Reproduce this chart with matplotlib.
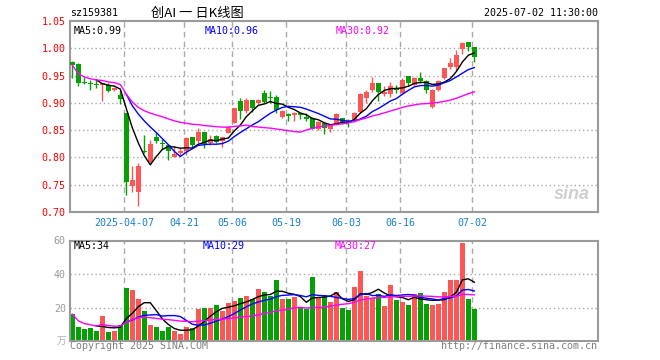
import numpy as np
import pandas as pd
import matplotlib
matplotlib.use('Agg')
from matplotlib import pyplot as plt

plt.rcParams['font.family'] = ['DejaVu Sans Mono', 'Noto Sans CJK SC']

# daily K-line data, 2025-03-24 .. 2025-07-02 (68 trading days)
opens = [0.9755, 0.9706, 0.938, 0.9355, 0.935, 0.933, 0.9327, 0.9235, 0.9143, 0.8807,
         0.7478, 0.737, 0.8125, 0.7919, 0.8378, 0.8262, 0.8219, 0.8011, 0.8085, 0.8121,
         0.8366, 0.8293, 0.8464, 0.8256, 0.8390, 0.8299, 0.8452, 0.8635, 0.9033, 0.8856,
         0.9051, 0.899, 0.918, 0.910, 0.9107, 0.8745, 0.8801, 0.877, 0.8807, 0.8739,
         0.8727, 0.8513, 0.8623, 0.8513, 0.8611, 0.8715, 0.8672, 0.8672, 0.8837, 0.9082,
         0.9235, 0.937, 0.9162, 0.9155, 0.9266, 0.9174, 0.9492, 0.9327, 0.9449, 0.94,
         0.8929, 0.9235, 0.9449, 0.9663, 0.9663, 0.9982, 1.011, 1.0018]
closes = [0.9694, 0.937, 0.936, 0.9345, 0.933, 0.936, 0.9223, 0.9278, 0.907, 0.7552,
          0.7595, 0.784, 0.810, 0.8237, 0.8305, 0.825, 0.8109, 0.806, 0.812, 0.8348,
          0.8219, 0.8458, 0.8238, 0.8329, 0.8287, 0.8366, 0.8556, 0.8898, 0.8856, 0.9051,
          0.8911, 0.9058, 0.9021, 0.9082, 0.8868, 0.8856, 0.8764, 0.8813, 0.877, 0.871,
          0.8513, 0.8648, 0.8531, 0.8592, 0.8794, 0.8647, 0.8635, 0.8819, 0.9162, 0.9204,
          0.937, 0.9204, 0.9204, 0.9308, 0.9235, 0.9419, 0.9357, 0.9462, 0.94, 0.9235,
          0.9235, 0.94, 0.9633, 0.9725, 0.9878, 1.0104, 1.003, 0.9835]
highs = [0.9767, 0.9725, 0.947, 0.942, 0.941, 0.937, 0.9357, 0.9296, 0.9235, 0.881,
         0.784, 0.7907, 0.8409, 0.8317, 0.8458, 0.833, 0.8244, 0.8207, 0.8164, 0.8378,
         0.8378, 0.8531, 0.8464, 0.842, 0.8409, 0.8378, 0.8574, 0.891, 0.9082, 0.9082,
         0.9051, 0.907, 0.9235, 0.9217, 0.9143, 0.8868, 0.8807, 0.8837, 0.882, 0.882,
         0.8745, 0.8666, 0.8635, 0.861, 0.8807, 0.8727, 0.8696, 0.8837, 0.9174, 0.9235,
         0.9468, 0.937, 0.9308, 0.9388, 0.9327, 0.9462, 0.9492, 0.948, 0.9572, 0.9419,
         0.9247, 0.9419, 0.9645, 0.9816, 0.997, 1.0122, 1.011, 1.0018]
lows = [0.945, 0.9315, 0.9345, 0.9235, 0.9265, 0.904, 0.9205, 0.9223, 0.8978, 0.7307,
        0.737, 0.7111, 0.8085, 0.789, 0.8256, 0.8146, 0.7962, 0.7999, 0.8042, 0.804,
        0.818, 0.8268, 0.8176, 0.822, 0.8256, 0.8183, 0.844, 0.8623, 0.8697, 0.8819,
        0.8837, 0.898, 0.899, 0.9003, 0.8807, 0.8715, 0.8672, 0.8672, 0.8697, 0.8672,
        0.8513, 0.85, 0.8427, 0.847, 0.8592, 0.8605, 0.8562, 0.8654, 0.8819, 0.9002,
        0.9198, 0.9039, 0.9125, 0.9113, 0.9174, 0.9155, 0.9308, 0.9308, 0.9357, 0.9186,
        0.891, 0.9217, 0.943, 0.9614, 0.959, 0.9896, 0.9957, 0.9755]
# volume, 万
volumes = [16.0, 8.2, 7.0, 7.6, 5.8, 14.8, 5.2, 5.8, 9.6, 31.6,
           30.4, 25.0, 17.8, 9.4, 8.2, 5.8, 8.2, 5.8, 4.0, 8.2,
           7.6, 19.0, 19.6, 19.6, 21.4, 17.8, 22.6, 23.8, 25.6, 26.8,
           25.0, 31.0, 29.2, 26.8, 36.4, 25.0, 25.0, 26.2, 20.2, 19.0,
           38.2, 26.2, 27.4, 23.4, 29.2, 19.8, 18.4, 32.2, 42.0, 26.8,
           25.6, 28.0, 20.8, 33.4, 24.4, 23.2, 21.4, 28.0, 28.6, 22.0,
           21.4, 22.0, 29.2, 36.4, 36.4, 58.6, 25.0, 19.0]

date_idx = [9, 19, 27, 36, 46, 55, 67]
date_labels = ['2025-04-07', '04-21', '05-06', '05-19', '06-03', '06-16', '07-02']
price_ticks = [0.70, 0.75, 0.80, 0.85, 0.90, 0.95, 1.00, 1.05]
vol_ticks = [20, 40, 60]
price_ma_text = ['MA5:0.99', 'MA10:0.96', 'MA30:0.92']
vol_ma_text = ['MA5:34', 'MA10:29', 'MA30:27']

RED = '#fd5656'
GREEN = '#06a006'
GRID = '#aaaaaa'
BORDER = '#9a9a9a'
MA_COLORS = ['black', '#0000ff', '#ff00ff']

o = np.array(opens); c = np.array(closes); h = np.array(highs); l = np.array(lows)
v = np.array(volumes)
x = np.arange(len(c))
up = c >= o
colors = np.where(up, RED, GREEN)

cs = pd.Series(c)
price_ma = [cs.rolling(5).mean(), cs.rolling(10).mean(), cs.rolling(30, min_periods=1).mean()]
vs = pd.Series(v)
vol_ma = [vs.rolling(5).mean(), vs.rolling(10).mean(), vs.rolling(30, min_periods=1).mean()]

fig = plt.figure(figsize=(6.6, 3.6), dpi=100)
W, H = 660.0, 360.0
xl = (-0.38, 87.6)

def style_axes(ax):
    for s in ax.spines.values():
        s.set_color(BORDER)
        s.set_linewidth(1.5)
    ax.tick_params(length=0)
    ax.set_xlim(*xl)
    ax.set_xticks([])
    for i in date_idx:
        ax.axvline(i - 0.4, color=GRID, lw=1, ls=(0, (4, 3)), zorder=0)

# ---- price panel
ax = fig.add_axes([70 / W, 1 - 212 / H, 528 / W, 191 / H])
style_axes(ax)
ax.set_ylim(0.70, 1.05)
ax.set_yticks(price_ticks)
ax.set_yticklabels(['%.2f' % t for t in price_ticks], color='#ff0000', fontsize=7.2)
ax.tick_params(axis='y', pad=3)
for t in price_ticks[1:-1]:
    ax.axhline(t, color=GRID, lw=1, ls=(0, (1, 2)), zorder=0)

ax.vlines(x, l, h, colors=colors, lw=1, zorder=2)
body_lo = np.minimum(o, c)
body_h = np.maximum(np.abs(c - o), 0.0012)
ax.bar(x, body_h, bottom=body_lo, width=0.78, color=colors, lw=0, zorder=3)
for ma, col in zip(price_ma, MA_COLORS):
    ax.plot(x, ma, color=col, lw=1, zorder=4)

for lab, xp in zip(price_ma_text, [74, 205, 336]):
    fig.text(xp / W, 1 - 31 / H, lab, color=MA_COLORS[price_ma_text.index(lab)],
             fontsize=7.2, va='center')

for i, lab in zip(date_idx, date_labels):
    ax.text(i - 0.4, -0.055, lab, transform=ax.get_xaxis_transform(), ha='center', va='center',
            color='#1a7fd4', fontsize=7.2)

ax.text(0.985, 0.09, 'sina', transform=ax.transAxes, ha='right', va='center', fontsize=13,
        color='#c4c4c4', family='Liberation Sans', style='italic', weight='bold', alpha=0.8)

# ---- volume panel
axv = fig.add_axes([70 / W, 1 - 341 / H, 528 / W, 100.5 / H])
style_axes(axv)
axv.set_ylim(0, 60)
axv.set_yticks(vol_ticks)
axv.set_yticklabels([str(t) for t in vol_ticks], color='#9a9a9a', fontsize=7.2)
axv.tick_params(axis='y', pad=3)
for t in vol_ticks[:-1]:
    axv.axhline(t, color=GRID, lw=1, ls=(0, (1, 2)), zorder=0)
axv.bar(x, v, width=0.78, color=colors, lw=0, zorder=2)
for ma, col in zip(vol_ma, MA_COLORS):
    axv.plot(x, ma, color=col, lw=1, zorder=3)
for lab, xp, col in zip(vol_ma_text, [74, 203, 335], MA_COLORS):
    fig.text(xp / W, 1 - 246 / H, lab, color=col, fontsize=7.2, va='center')

# ---- header / footer texts
fig.text(70 / W, 1 - 13 / H, 'sz159381', fontsize=7.2, va='center')
fig.text(151 / W, 1 - 13 / H, '创AI 一 日K线图', fontsize=9.5, va='center',
         family=['Noto Sans CJK SC', 'DejaVu Sans'])
fig.text(598 / W, 1 - 13 / H, '2025-07-02 11:30:00', fontsize=7.2, va='center', ha='right')
fig.text(66 / W, 1 - 341 / H, '万', fontsize=7, va='center', ha='right', color='#b0b0b0',
         family=['Noto Sans CJK SC', 'DejaVu Sans'])
fig.text(70 / W, 1 - 346 / H, 'Copyright 2025 SINA.COM', fontsize=7.2, va='center', color='#808080')
fig.text(597 / W, 1 - 346 / H, 'http://finance.sina.com.cn', fontsize=7.2, va='center',
         ha='right', color='#808080')

fig.savefig('out.png', dpi=100)
